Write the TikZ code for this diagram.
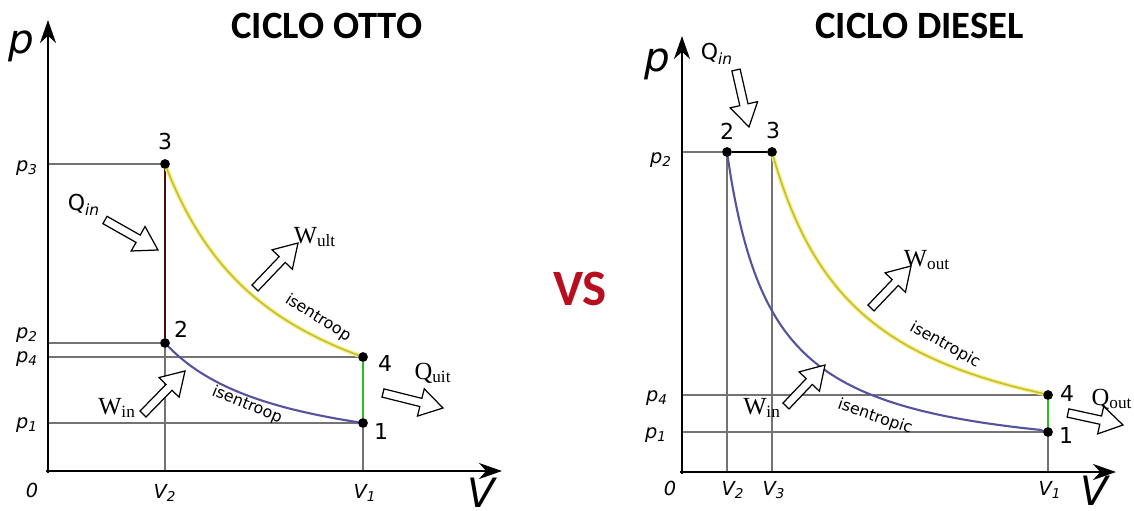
\documentclass[tikz,border=0pt]{standalone}
\usepackage{fontspec}
\setmainfont{DejaVu Sans}
\newfontfamily\serifW{Liberation Serif}
\newfontfamily\titlef{Carlito}
\usetikzlibrary{calc,arrows.meta}
\definecolor{yelcore}{rgb}{0.78,0.74,0.18}
\definecolor{yelhalo}{rgb}{0.96,0.94,0.55}
\definecolor{bluecurve}{rgb}{0.33,0.33,0.62}
\definecolor{greenline}{rgb}{0.15,0.75,0.15}
\definecolor{maroon}{rgb}{0.28,0.05,0.05}
\definecolor{vsred}{rgb}{0.72,0.06,0.12}
\newcommand\harrow[3]{%
  \coordinate (#1H) at ($(#3)!13pt!(#2)$);
  \draw[hollow] ($(#2)!2.4pt!90:(#3)$) -- ($(#1H)!2.4pt!90:(#3)$) -- ($(#1H)!8pt!90:(#3)$) -- (#3) -- ($(#1H)!8pt!-90:(#3)$) -- ($(#1H)!2.4pt!-90:(#3)$) -- ($(#2)!2.4pt!-90:(#3)$) -- cycle;}
\tikzset{
 axisline/.style={line width=1.7pt,-{Stealth[length=13pt,width=9pt,inset=4pt]}},
 guide/.style={draw=black!55,line width=0.6pt},
 dot/.style={circle,fill=black,inner sep=0pt,minimum size=5.4pt},
 num/.style={font=\fontsize{12.5}{12.5}\selectfont,inner sep=0pt},
 plabel/.style={font=\fontsize{11}{11}\selectfont\itshape,inner sep=0pt},
 axlabel/.style={font=\fontsize{23}{23}\selectfont\itshape,inner sep=0pt},
 isen/.style={font=\fontsize{9}{9}\selectfont,inner sep=0pt},
 qlabel/.style={font=\fontsize{12.5}{12.5}\selectfont,inner sep=0pt},
 wlabel/.style={font=\serifW\fontsize{14}{14}\selectfont,inner sep=0pt},
 hollow/.style={draw=black,fill=white,line width=0.7pt,line join=miter},
 yhalo/.style={draw=yelhalo,line width=2.4pt},
 ycore/.style={draw=yelcore,line width=0.9pt},
 bcurve/.style={draw=bluecurve,line width=1.2pt},
 title/.style={font=\titlef\bfseries\fontsize{22}{22}\selectfont,inner sep=0pt},
}
\begin{document}
\begin{tikzpicture}[x=0.02cm,y=-0.02cm]
\useasboundingbox (0,0) rectangle (1134,511);
% ---------------- Titles ----------------
\node[title,anchor=west] (tO) at (231,26) {CICLO OTTO};
\node[title,anchor=west] (tD) at (815,26) {CICLO DIESEL};
\node[font=\titlef\bfseries\fontsize{29}{29}\selectfont,text=vsred,inner sep=0pt] (vs) at (580,289) {VS};
% ================= OTTO =================
\coordinate (LO) at (48,473);
\coordinate (Ltop) at (48,20);
\coordinate (Lright) at (502,471);
\coordinate (LOx) at (46,471);
\node[dot] (L3) at (165,164) {};
\node[dot] (L2) at (165,343) {};
\node[dot] (L4) at (363,357) {};
\node[dot] (L1) at (363,423) {};
\coordinate (Lp3) at (49,164);
\coordinate (Lp2) at (49,343);
\coordinate (Lp4) at (49,357);
\coordinate (Lp1) at (49,423);
\coordinate (LV2) at (165,470);
\coordinate (LV1) at (363,470);
\draw[guide] (Lp3) -- (L3);
\draw[guide] (Lp2) -- (L2);
\draw[guide] (Lp4) -- (L4);
\draw[guide] (Lp1) -- (L1);
\draw[guide] (L2) -- (LV2);
\draw[guide] (L1) -- (LV1);
\draw[axisline] (LO) -- (Ltop);
\draw[axisline] (LOx) -- (Lright);
\draw[maroon,line width=1.3pt] (L3) -- (L2);
\draw[greenline,line width=1.4pt] (L4) -- (L1);
\draw[yhalo] plot[domain=165:363,samples=60,smooth] (\x,{471-307*(117/(\x-48))});
\draw[ycore] plot[domain=165:363,samples=60,smooth] (\x,{471-307*(117/(\x-48))});
\draw[bcurve] plot[domain=165:363,samples=60,smooth] (\x,{471-128*pow(117/(\x-48),0.99)});
\node[dot] at (L3) {};
\node[dot] at (L2) {};
\node[dot] at (L4) {};
\node[dot] at (L1) {};
\node[num] (n3) at (165,142) {3};
\node[num] (n2) at (181,329) {2};
\node[num] (n4) at (385,363) {4};
\node[num] (n1) at (381,431) {1};
\node[plabel] (lp3) at (27,168) {p\textsubscript{3}};
\node[plabel] (lp2) at (27,335) {p\textsubscript{2}};
\node[plabel] (lp4) at (27,359) {p\textsubscript{4}};
\node[plabel] (lp1) at (27,425) {p\textsubscript{1}};
\node[plabel] (lv2) at (165,493) {V\textsubscript{2}};
\node[plabel] (lv1) at (365,493) {V\textsubscript{1}};
\node[plabel] (l0) at (32,490) {0};
\node[axlabel] (lV) at (481,493) {V};
\node[axlabel] (lp) at (21,46) {p};
\node[isen,rotate=-32] (li1) at (318,318) {isentroop};
\node[isen,rotate=-22] (li2) at (247,405) {isentroop};
\node[qlabel] (lqin) at (84,205) {Q\textsubscript{\itshape in}};
\node[wlabel] (lwult) at (315,237) {W\textsubscript{ult}};
\node[wlabel] (lwin) at (117,408) {W\textsubscript{in}};
\node[wlabel] (lquit) at (433,373) {Q\textsubscript{uit}};
\coordinate (aq1t) at (105,220); \coordinate (aq1h) at (158,250);
\coordinate (aw1t) at (255,288); \coordinate (aw1h) at (298,243);
\coordinate (ai1t) at (143,414); \coordinate (ai1h) at (185,371);
\coordinate (ao1t) at (383,393); \coordinate (ao1h) at (443,408);
\harrow{a1}{aq1t}{aq1h}
\harrow{a2}{aw1t}{aw1h}
\harrow{a3}{ai1t}{ai1h}
\harrow{a4}{ao1t}{ao1h}
% ================= DIESEL =================
\coordinate (RO) at (682,474);
\coordinate (Rtop) at (682,36);
\coordinate (Rright) at (1116,472);
\coordinate (ROx) at (680,472);
\node[dot] (R2) at (727,152) {};
\node[dot] (R3) at (772,152) {};
\node[dot] (R4) at (1048,395) {};
\node[dot] (R1) at (1048,432) {};
\coordinate (Rp2) at (683,152);
\coordinate (Rp4) at (683,395);
\coordinate (Rp1) at (683,432);
\coordinate (RV2) at (727,471);
\coordinate (RV3) at (772,471);
\coordinate (RV1) at (1048,471);
\draw[guide] (Rp2) -- (R2);
\draw[guide] (Rp4) -- (R4);
\draw[guide] (Rp1) -- (R1);
\draw[guide] (R2) -- (RV2);
\draw[guide] (R3) -- (RV3);
\draw[guide] (R1) -- (RV1);
\draw[axisline] (RO) -- (Rtop);
\draw[axisline] (ROx) -- (Rright);
\draw[black,line width=1.5pt] (R2) -- (R3);
\draw[greenline,line width=1.4pt] (R4) -- (R1);
\draw[yhalo] plot[domain=772:1048,samples=60,smooth] (\x,{472-320*pow(90/(\x-682),1.012)});
\draw[ycore] plot[domain=772:1048,samples=60,smooth] (\x,{472-320*pow(90/(\x-682),1.012)});
\draw[bcurve] plot[domain=727:1048,samples=80,smooth] (\x,{472-320*pow(45/(\x-682),0.99)});
\node[dot] at (R2) {};
\node[dot] at (R3) {};
\node[dot] at (R4) {};
\node[dot] at (R1) {};
\node[num] (m2) at (727,131) {2};
\node[num] (m3) at (773,131) {3};
\node[num] (m4) at (1067,393) {4};
\node[num] (m1) at (1066,435) {1};
\node[plabel] (rp2) at (661,160) {p\textsubscript{2}};
\node[plabel] (rp4) at (657,398) {p\textsubscript{4}};
\node[plabel] (rp1) at (656,435) {p\textsubscript{1}};
\node[plabel] (rv2) at (733,490) {V\textsubscript{2}};
\node[plabel] (rv3) at (774,490) {V\textsubscript{3}};
\node[plabel] (rv1) at (1050,490) {V\textsubscript{1}};
\node[plabel] (r0) at (670,488) {0};
\node[axlabel] (rV) at (1094,491) {V};
\node[axlabel] (rp) at (657,64) {p};
\node[isen,rotate=-29] (ri1) at (945,345) {isentropic};
\node[isen,rotate=-19] (ri2) at (875,417) {isentropic};
\node[qlabel] (rqin) at (717,54) {Q\textsubscript{\itshape in}};
\node[wlabel] (rwout) at (927,260) {W\textsubscript{out}};
\node[wlabel] (rwin) at (762,408) {W\textsubscript{in}};
\node[wlabel] (rqout) at (1112,399) {Q\textsubscript{out}};
\coordinate (bq1t) at (736,70); \coordinate (bq1h) at (749,127);
\coordinate (bw1t) at (871,308); \coordinate (bw1h) at (911,266);
\coordinate (bi1t) at (786,406); \coordinate (bi1h) at (825,365);
\coordinate (bo1t) at (1068,413); \coordinate (bo1h) at (1123,425);
\harrow{b1}{bq1t}{bq1h}
\harrow{b2}{bw1t}{bw1h}
\harrow{b3}{bi1t}{bi1h}
\harrow{b4}{bo1t}{bo1h}
\end{tikzpicture}
\end{document}
